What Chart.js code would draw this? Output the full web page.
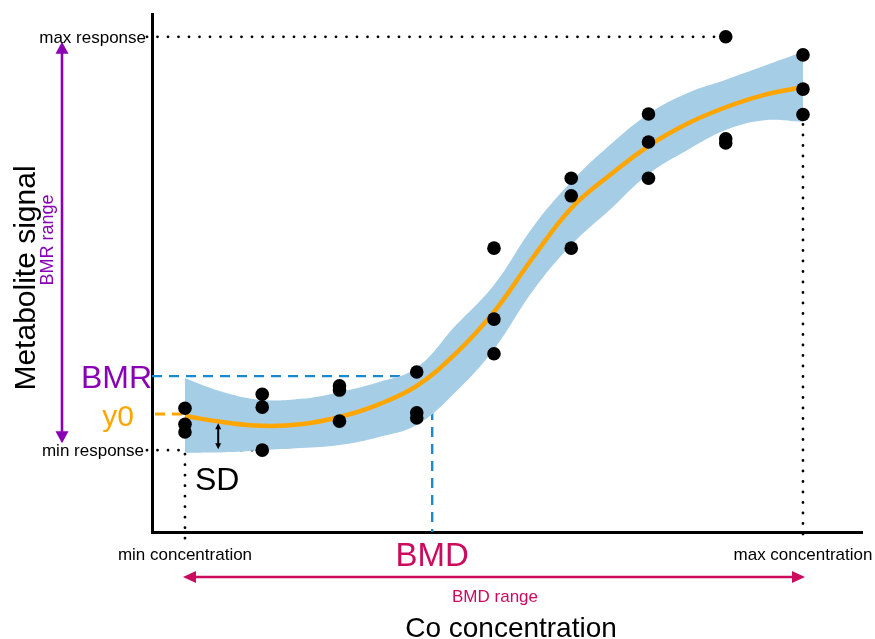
<!DOCTYPE html>
<html>
<head>
<meta charset="utf-8">
<script src="https://cdn.jsdelivr.net/npm/chart.js@4/dist/chart.umd.min.js"></script>
<style>
  html, body { margin: 0; padding: 0; background: #fff; }
  #wrap { width: 875px; height: 639px; }
</style>
</head>
<body>
<div id="wrap"><canvas id="c" width="875" height="639"></canvas></div>
<script>
// dose steps (0 = min concentration, 8 = max concentration)
const doses = [0, 1, 2, 3, 4, 5, 6, 7, 8];
const rep1 = [23.9, 26.6, 28.2, 30.9, 54.8, 68.3, 80.7, 95.6, 92.1];
const rep2 = [20.8, 24.1, 27.4, 23.0, 41.1, 64.9, 75.3, 75.9, 85.5];
const rep3 = [19.3, 15.8, 21.4, 22.0, 34.4, 54.8, 68.3, 75.1, 80.6];

// fitted curve and its confidence band
const fitX  = [0, 0.5, 1, 1.5, 2, 2.5, 3, 3.5, 4, 4.5, 5, 5.5, 6, 6.5, 7, 7.5, 8];
const fitY  = [22.4, 21.2, 20.5, 20.8, 22.2, 24.6, 28.2, 34.4, 42.5, 52.9, 62.5, 68.9, 74.5, 78.8, 82.0, 84.4, 85.9];
const bandHi = [29.7, 27.0, 25.5, 25.7, 27.0, 28.9, 31.7, 39.8, 47.7, 58.8, 67.6, 74.7, 80.7, 84.7, 87.3, 90.0, 92.7];
const bandLo = [15.3, 15.4, 15.8, 16.2, 16.8, 18.3, 20.7, 27.0, 35.3, 46.5, 55.4, 62.2, 69.1, 73.7, 77.6, 79.5, 79.2];

// reference levels
const maxResponse = 95.6, minResponse = 15.8, y0 = 22.8, bmr = 30.1, bmd = 3.2;
const minConc = 0, maxConc = 8, maxAt = 7, minAt = 1;
const sdX = 0.43, sdTop = 21.2;

const FONT = '"Liberation Sans", Arial, Helvetica, sans-serif';
const PURPLE = '#8a00b4', ORANGE = '#ffa500', CRIMSON = '#cc0a5e', BLUE = '#1a8ad0';

function pts(xs, ys){ return xs.map((x, i) => ({x, y: ys[i]})); }

function line(ctx, x1, y1, x2, y2){ ctx.beginPath(); ctx.moveTo(x1, y1); ctx.lineTo(x2, y2); ctx.stroke(); }
function dotted(ctx, x1, y1, x2, y2){
  ctx.save(); ctx.strokeStyle = '#000'; ctx.lineWidth = 2.8; ctx.lineCap = 'round';
  ctx.setLineDash([0, 10.5]); line(ctx, x1, y1, x2, y2); ctx.restore();
}
function dashed(ctx, x1, y1, x2, y2, col, w){
  ctx.save(); ctx.strokeStyle = col; ctx.lineWidth = w; ctx.setLineDash([10, 7]);
  line(ctx, x1, y1, x2, y2); ctx.restore();
}
function head(ctx, tx, ty, dx, dy, len, hw){
  // arrow head at tip (tx,ty) pointing in direction (dx,dy)
  ctx.beginPath();
  ctx.moveTo(tx, ty);
  ctx.lineTo(tx - dx*len - dy*hw, ty - dy*len + dx*hw);
  ctx.lineTo(tx - dx*len + dy*hw, ty - dy*len - dx*hw);
  ctx.closePath(); ctx.fill();
}
function arrow2(ctx, x1, y1, x2, y2, col, w, len, hw){
  const d = Math.hypot(x2-x1, y2-y1), dx = (x2-x1)/d, dy = (y2-y1)/d;
  ctx.save(); ctx.strokeStyle = col; ctx.fillStyle = col; ctx.lineWidth = w;
  line(ctx, x1 + dx*len*0.8, y1 + dy*len*0.8, x2 - dx*len*0.8, y2 - dy*len*0.8);
  head(ctx, x2, y2, dx, dy, len, hw);
  head(ctx, x1, y1, -dx, -dy, len, hw);
  ctx.restore();
}
function text(ctx, s, x, y, size, col, align){
  ctx.save(); ctx.font = size + 'px ' + FONT; ctx.fillStyle = col;
  ctx.textAlign = align || 'center'; ctx.textBaseline = 'alphabetic';
  ctx.fillText(s, x, y); ctx.restore();
}
function vtext(ctx, s, x, y, size, col){
  ctx.save(); ctx.translate(x, y); ctx.rotate(-Math.PI/2);
  ctx.font = size + 'px ' + FONT; ctx.fillStyle = col;
  ctx.textAlign = 'center'; ctx.textBaseline = 'alphabetic';
  ctx.fillText(s, 0, 0); ctx.restore();
}

const annotations = {
  id: 'annotations',
  beforeDatasetsDraw(chart){
    const {ctx, chartArea: a, scales: {x, y}} = chart;
    const px = v => x.getPixelForValue(v), py = v => y.getPixelForValue(v);
    // dotted reference lines
    dotted(ctx, 147, py(maxResponse), px(maxAt), py(maxResponse));
    dotted(ctx, 147, py(minResponse), px(minAt), py(minResponse));
    dotted(ctx, px(minConc), py(minResponse) + 4, px(minConc), a.bottom + 8);
    dotted(ctx, px(maxConc), py(rep3[8]) + 10, px(maxConc), a.bottom + 9);
    // BMR / BMD dashed
    dashed(ctx, a.left, py(bmr), px(bmd), py(bmr), BLUE, 2.4);
    dashed(ctx, px(bmd), py(bmr), px(bmd), a.bottom, BLUE, 2.4);
    // y0 dashed
    dashed(ctx, a.left + 3, py(y0), px(minConc), py(y0), ORANGE, 3);
  },
  afterDraw(chart){
    const {ctx, scales: {x, y}} = chart;
    const px = v => x.getPixelForValue(v), py = v => y.getPixelForValue(v);
    // SD arrow
    arrow2(ctx, px(sdX), py(sdTop) + 1, px(sdX), py(minResponse) - 1, '#000', 2, 6, 3);
    // BMR range arrow
    arrow2(ctx, 62, py(maxResponse) + 5, 62, py(minResponse) - 7, PURPLE, 2.6, 12, 6.5);
    // BMD range arrow
    arrow2(ctx, px(minConc) - 2, 577, px(maxConc) + 2, 577, CRIMSON, 2.6, 13, 6);

    text(ctx, 'max response', 146, py(maxResponse) + 6, 17, '#000', 'right');
    text(ctx, 'min response', 144, py(minResponse) + 6, 17, '#000', 'right');
    text(ctx, 'min concentration', px(minConc), 560, 17, '#000');
    text(ctx, 'max concentration', px(maxConc), 560, 17, '#000');
    text(ctx, 'BMR', 152, py(bmr) + 12, 32, PURPLE, 'right');
    text(ctx, 'y0', 134, py(y0) + 12, 30, ORANGE, 'right');
    text(ctx, 'SD', 195, 490, 32, '#000', 'left');
    text(ctx, 'BMD', px(bmd), 566, 33, CRIMSON);
    text(ctx, 'BMD range', 495, 602, 17, CRIMSON);
    text(ctx, 'Co concentration', 511, 637, 28, '#000');
    vtext(ctx, 'Metabolite signal', 35, 278, 30, '#000');
    vtext(ctx, 'BMR range', 53, 240, 18, PURPLE);
  }
};

function init(){
  new Chart(document.getElementById('c').getContext('2d'), {
    type: 'scatter',
    data: {
      datasets: [
        { label: 'Observed', data: pts(doses, rep1).concat(pts(doses, rep2), pts(doses, rep3)),
          pointRadius: 6.8, pointBackgroundColor: '#000', pointBorderWidth: 0, showLine: false, order: 0 },
        { label: 'Fit', data: pts(fitX, fitY), showLine: true, borderColor: ORANGE, borderWidth: 4.5,
          tension: 0.4, pointRadius: 0, fill: false, order: 1 },
        { label: 'Upper', data: pts(fitX, bandHi), showLine: true, borderWidth: 0, borderColor: 'rgba(0,0,0,0)',
          backgroundColor: '#a6cde6', tension: 0.4, pointRadius: 0, fill: '+1', order: 2 },
        { label: 'Lower', data: pts(fitX, bandLo), showLine: true, borderWidth: 0, borderColor: 'rgba(0,0,0,0)',
          tension: 0.4, pointRadius: 0, fill: false, order: 3 }
      ]
    },
    options: {
      responsive: false, animation: false, events: [],
      layout: { padding: { left: 152, right: 13, top: 14, bottom: 107 } },
      plugins: { legend: { display: false }, tooltip: { enabled: false } },
      scales: {
        x: { type: 'linear', min: -0.427, max: 8.764,
             grid: { display: false, drawTicks: false }, ticks: { display: false },
             border: { display: true, color: '#000', width: 3 } },
        y: { type: 'linear', min: 0, max: 100,
             grid: { display: false, drawTicks: false }, ticks: { display: false },
             border: { display: true, color: '#000', width: 3 } }
      }
    },
    plugins: [annotations]
  });
}
window.addEventListener('load', init);
</script>
</body>
</html>
